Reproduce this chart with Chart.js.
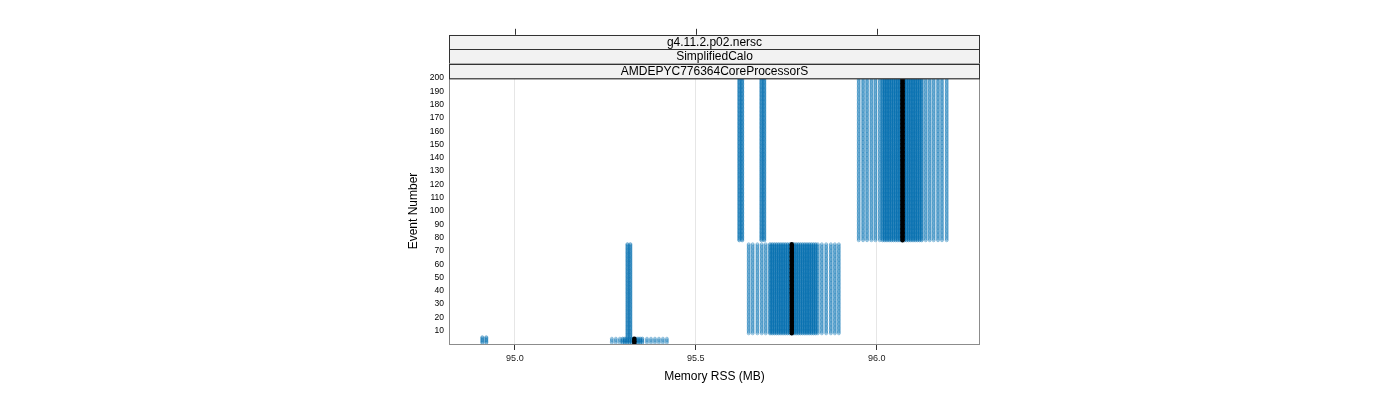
<!DOCTYPE html>
<html>
<head>
<meta charset="utf-8">
<script src="https://cdn.jsdelivr.net/npm/chart.js@4.4.1/dist/chart.umd.min.js"></script>
<style>
  html, body { margin: 0; padding: 0; background: #fff; }
</style>
</head>
<body>
<canvas id="myChart" width="1400" height="400"></canvas>
<script>
var stripLabels = ["g4.11.2.p02.nersc", "SimplifiedCalo", "AMDEPYC776364CoreProcessorS"];
var xTicks = [95.0, 95.5, 96.0];
var yTicks = [10, 20, 30, 40, 50, 60, 70, 80, 90, 100, 110, 120, 130, 140, 150, 160, 170, 180, 190, 200];

// memory readings (MB) of the runs, grouped by the event range they cover
// "edge" = sparse outer readings, "core" = where many runs pile up
var startupMem = [94.910, 94.921];
var startupEvents = [1, 5];
var firstEdge = [95.268, 95.279, 95.290, 95.365, 95.376, 95.387, 95.398, 95.409, 95.420];
var firstCore = [95.298, 95.304, 95.310, 95.316, 95.322, 95.328, 95.334, 95.340, 95.346, 95.352];
var firstEvents = [1, 4];
var earlyMem = [95.311, 95.319];
var earlyEvents = [5, 75];
var midEdge = [95.646, 95.657, 95.670, 95.682, 95.693, 95.837, 95.848, 95.860, 95.873, 95.884, 95.895];
var midCore = [95.705, 95.711, 95.717, 95.723, 95.729, 95.735, 95.741, 95.747, 95.753, 95.759, 95.765,
    95.771, 95.777, 95.783, 95.789, 95.795, 95.801, 95.807, 95.813, 95.819, 95.825, 95.831];
var midEvents = [8, 75];
var lateSingleMem = [95.620, 95.628, 95.681, 95.689];
var lateEdge = [95.950, 95.962, 95.973, 95.985, 95.996, 96.008, 96.135, 96.146, 96.157, 96.169, 96.180, 96.193];
var lateCore = [96.016, 96.022, 96.028, 96.034, 96.040, 96.046, 96.052, 96.058, 96.064, 96.070,
    96.076, 96.082, 96.088, 96.094, 96.100, 96.106, 96.112, 96.118, 96.124];
var lateEvents = [78, 200];

// reference run (black)
var refMem = [95.330, 95.765, 96.071];
var refEvents = [[1, 4], [8, 75], [78, 200]];

function columnPoints(mems, events, out) {
    for (var e = events[0]; e <= events[1]; e++) {
        mems.forEach(function (m) {
            out.push({ x: m, y: e });
        });
    }
    return out;
}

var edgePoints = [];
columnPoints(firstEdge, firstEvents, edgePoints);
columnPoints(midEdge, midEvents, edgePoints);
columnPoints(lateEdge, lateEvents, edgePoints);

var corePoints = [];
columnPoints(startupMem, startupEvents, corePoints);
columnPoints(firstCore, firstEvents, corePoints);
columnPoints(earlyMem, earlyEvents, corePoints);
columnPoints(midCore, midEvents, corePoints);
columnPoints(lateSingleMem, lateEvents, corePoints);
columnPoints(lateCore, lateEvents, corePoints);

var refPoints = [];
refMem.forEach(function (m, i) {
    columnPoints([m], refEvents[i], refPoints);
});

// strips on top of the panel, frame and top tick marks
var panelPlugin = {
    id: 'panel',
    afterDatasetsDraw: function (chart) {
        var ctx = chart.ctx;
        var a = chart.chartArea;
        var xs = chart.scales.x;
        ctx.save();
        ctx.strokeStyle = '#8c8c8c';
        ctx.lineWidth = 1;
        ctx.strokeRect(a.left + 0.5, a.top + 0.5, a.right - a.left - 1, a.bottom - a.top);

        var stripH = 14.4;
        var top0 = a.top - stripH * stripLabels.length;
        ctx.font = '12px "Liberation Sans", Arial, sans-serif';
        ctx.textAlign = 'center';
        ctx.textBaseline = 'middle';
        stripLabels.forEach(function (txt, i) {
            var y = top0 + i * stripH;
            ctx.fillStyle = '#f2f2f2';
            ctx.fillRect(a.left, y, a.right - a.left, stripH);
            ctx.strokeStyle = '#333';
            ctx.strokeRect(a.left + 0.5, Math.round(y) + 0.5, a.right - a.left - 1, stripH);
            ctx.fillStyle = '#000';
            ctx.fillText(txt, (a.left + a.right) / 2, y + stripH / 2 + 0.5);
        });

        ctx.strokeStyle = '#333';
        xTicks.forEach(function (v) {
            var px = Math.round(xs.getPixelForValue(v)) + 0.5;
            ctx.beginPath();
            ctx.moveTo(px, top0 - 6);
            ctx.lineTo(px, top0);
            ctx.stroke();
        });
        ctx.restore();
    }
};

var ctx = document.getElementById("myChart").getContext("2d");
var chart = new Chart(ctx, {
    type: 'scatter',
    data: {
        datasets: [
            {
                data: refPoints,
                order: 0,
                pointRadius: 2.2,
                pointBackgroundColor: '#000',
                pointBorderWidth: 0,
                clip: 0
            },
            {
                data: corePoints,
                order: 1,
                pointRadius: 1.6,
                pointBackgroundColor: 'rgba(0, 110, 175, 0.3)',
                pointBorderColor: 'rgba(0, 110, 175, 0.45)',
                pointBorderWidth: 1,
                clip: 0
            },
            {
                data: edgePoints,
                order: 2,
                pointRadius: 1.5,
                pointBackgroundColor: 'rgba(0, 114, 178, 0.14)',
                pointBorderColor: 'rgba(0, 114, 178, 0.38)',
                pointBorderWidth: 1,
                clip: 0
            }
        ]
    },
    options: {
        responsive: false,
        animation: false,
        layout: { padding: { left: 0, right: 420, top: 78, bottom: 0 } },
        plugins: {
            legend: { display: false },
            tooltip: { enabled: false }
        },
        scales: {
            x: {
                type: 'linear',
                min: 94.818,
                max: 96.285,
                afterBuildTicks: function (s) {
                    s.ticks = xTicks.map(function (v) { return { value: v }; });
                },
                afterFit: function (s) { s.height = 56; },
                grid: { color: '#e6e6e6', tickColor: '#333', tickLength: 6 },
                border: { display: false },
                ticks: {
                    maxRotation: 0,
                    padding: 3,
                    color: '#222',
                    font: { family: '"Liberation Sans", Arial, sans-serif', size: 9 },
                    callback: function (v) { return v.toFixed(1); }
                },
                title: {
                    display: true,
                    text: 'Memory RSS (MB)',
                    color: '#000',
                    font: { family: '"Liberation Sans", Arial, sans-serif', size: 12 },
                    padding: { top: 0, bottom: 16 }
                }
            },
            y: {
                min: 0,
                max: 200,
                afterBuildTicks: function (s) {
                    s.ticks = yTicks.map(function (v) { return { value: v }; });
                },
                afterFit: function (s) { s.width = 449; },
                grid: { display: false, drawTicks: false },
                border: { display: false },
                ticks: {
                    padding: 5,
                    color: '#000',
                    font: { family: '"Liberation Sans", Arial, sans-serif', size: 8.5 }
                },
                title: {
                    display: true,
                    text: 'Event Number',
                    color: '#000',
                    font: { family: '"Liberation Sans", Arial, sans-serif', size: 12 },
                    padding: { top: 406, bottom: 0 }
                }
            }
        }
    },
    plugins: [panelPlugin]
});
</script>
</body>
</html>
